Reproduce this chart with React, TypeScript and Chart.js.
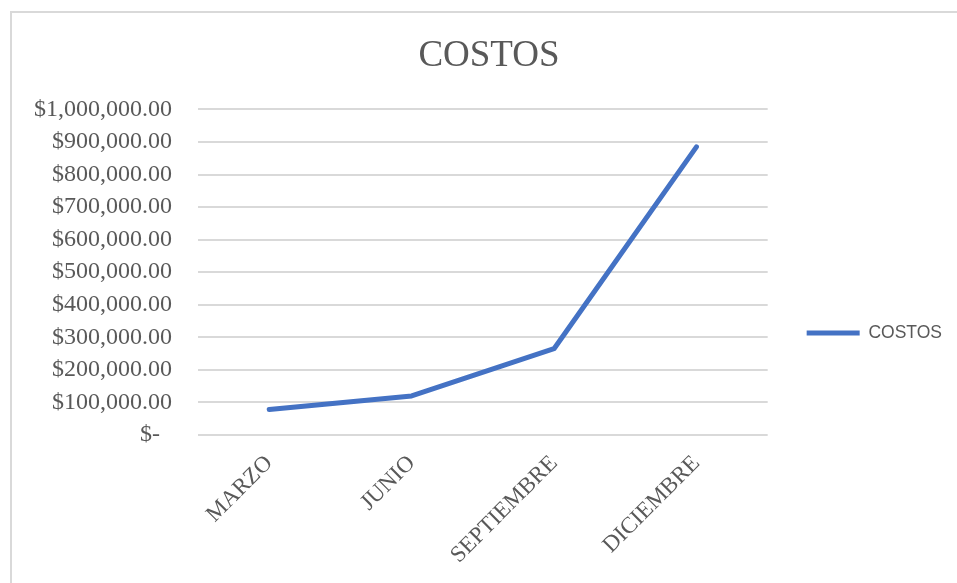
import React, { useEffect, useRef } from "react";
import { Chart, registerables } from "chart.js";

Chart.register(...registerables);

const chartTitle = "COSTOS";
const categories = ["MARZO", "JUNIO", "SEPTIEMBRE", "DICIEMBRE"];
const seriesName = "COSTOS";
const costos = [78000, 120000, 265000, 885000];
const yMin = 0;
const yMax = 1000000;
const yStep = 100000;

const formatMoney = (v: number) =>
  v === 0
    ? "$-  "
    : "$" +
      v.toLocaleString("en-US", {
        minimumFractionDigits: 2,
        maximumFractionDigits: 2,
      });

export default function App() {
  const ref = useRef<HTMLCanvasElement | null>(null);

  useEffect(() => {
    if (!ref.current) return;
    const serif = "'Liberation Serif', 'Times New Roman', serif";
    const chart = new Chart(ref.current, {
      type: "line",
      data: {
        labels: categories,
        datasets: [
          {
            label: seriesName,
            data: costos,
            borderColor: "#4472C4",
            backgroundColor: "#4472C4",
            borderWidth: 5,
            borderCapStyle: "round",
            borderJoinStyle: "round",
            pointRadius: 0,
            pointHoverRadius: 0,
            tension: 0,
            fill: false,
          },
        ],
      },
      options: {
        responsive: false,
        animation: false,
        devicePixelRatio: 1,
        layout: { padding: { left: 15, top: 0, bottom: 0, right: 15 } },
        plugins: {
          title: {
            display: true,
            text: chartTitle,
            color: "#595959",
            font: { family: serif, size: 37, weight: "normal", lineHeight: 1.2 },
            padding: { top: 22, bottom: 31 },
          },
          legend: {
            display: true,
            position: "right",
            labels: {
              usePointStyle: true,
              pointStyle: "line",
              pointStyleWidth: 53,
              padding: 39,
              color: "#595959",
              font: { family: "'Liberation Sans', Arial, sans-serif", size: 17.5 },
            },
          },
          tooltip: { enabled: false },
        },
        scales: {
          x: {
            offset: true,
            grid: { display: false },
            border: { display: false },
            ticks: {
              color: "#595959",
              font: { family: serif, size: 23 },
              minRotation: 45,
              maxRotation: 45,
              padding: 7,
            },
            afterFit: (scale: any) => {
              scale.height = 219;
            },
          },
          y: {
            min: yMin,
            max: yMax,
            border: { display: false },
            grid: { color: "#d9d9d9", lineWidth: 2, drawTicks: false },
            ticks: {
              stepSize: yStep,
              color: "#595959",
              font: { family: serif, size: 24 },
              padding: 26,
              callback: (v: any) => formatMoney(Number(v)),
            },
            afterFit: (scale: any) => {
              scale.width = 172;
            },
          },
        },
      },
    });
    return () => chart.destroy();
  }, []);

  return (
    <div
      style={{
        position: "fixed",
        left: 0,
        top: 0,
        width: 957,
        height: 583,
        overflow: "hidden",
        background: "#ffffff",
      }}
    >
      <div
        style={{
          position: "absolute",
          left: 10,
          top: 11,
          width: 1000,
          height: 700,
          border: "2px solid #d9d9d9",
          boxSizing: "border-box",
        }}
      />
      <canvas
        ref={ref}
        width={956}
        height={642}
        style={{ position: "absolute", left: 11, top: 12, width: 956, height: 642 }}
      />
    </div>
  );
}
